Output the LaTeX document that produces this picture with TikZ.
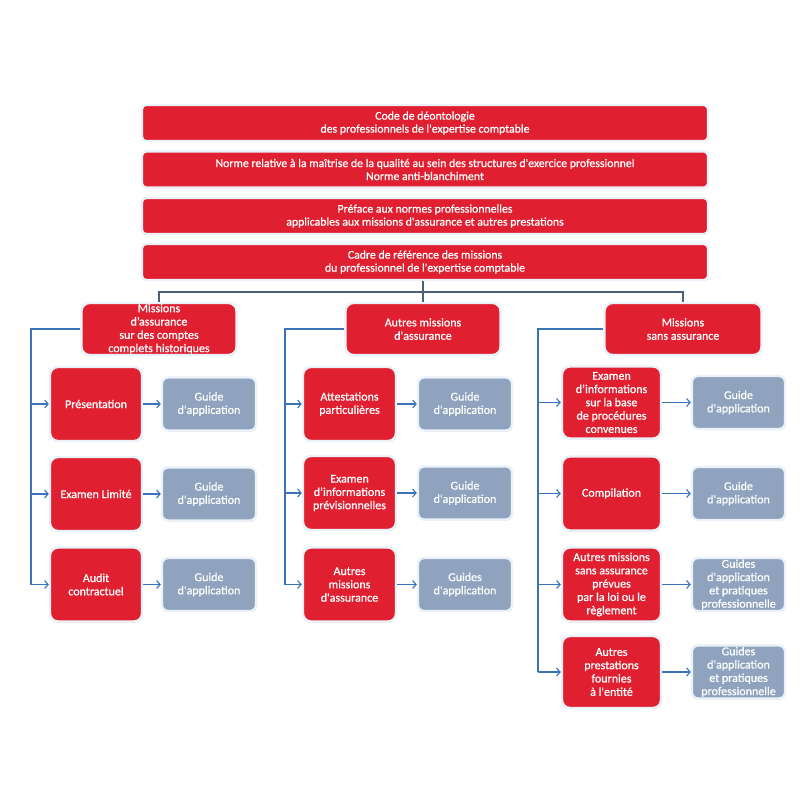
\documentclass[tikz,border=0pt]{standalone}
\usepackage{fontspec}
\setmainfont{Carlito}[Ligatures=TeXOff]
\newfontfamily\medfont{Carlito}[Ligatures=TeXOff, FakeBold=0.8]
\usetikzlibrary{arrows.meta,shadows}
\definecolor{boxred}{RGB}{224,32,48}
\definecolor{guidegray}{RGB}{143,163,190}
\definecolor{glow}{RGB}{234,241,248}
\definecolor{topline}{RGB}{75,94,122}
\definecolor{busblue}{RGB}{60,114,184}
\begin{document}
\begin{tikzpicture}[x=1pt,y=-1pt,
 base/.style={draw=glow, line width=2.4pt, text=white, align=center, inner sep=0pt,
   font=\medfont\fontsize{12}{13.3}\selectfont,
   drop shadow={shadow xshift=0.7pt, shadow yshift=-0.9pt, opacity=0.3, fill=black!60}},
 banner/.style={base, fill=boxred, rounded corners=4pt, minimum width=566pt, minimum height=36pt, font=\medfont\fontsize{11.8}{13}\selectfont},
 lvl/.style={base, fill=boxred, rounded corners=8pt, minimum width=155pt, minimum height=52pt},
 item/.style={base, fill=boxred, rounded corners=8pt, minimum height=74pt},
 guide/.style={base, fill=guidegray, rounded corners=6pt, minimum width=94pt, minimum height=53pt},
 bus/.style={busblue, line width=1.1pt},
 arr/.style={bus, -{Straight Barb[length=3.5pt,width=8pt]}},
 topl/.style={topline, line width=1.4pt}]
\useasboundingbox (0,0) rectangle (810,798);
\fill[white] (0,0) rectangle (810,798);

% banners
\node[banner] (b1) at (425,123) {Code de déontologie\\des professionnels de l'expertise comptable};
\node[banner] (b2) at (425,169.5) {Norme relative à la maîtrise de la qualité au sein des structures d'exercice professionnel\\Norme anti-blanchiment};
\node[banner] (b3) at (425,216) {Préface aux normes professionnelles\\applicables aux missions d'assurance et autres prestations};
\node[banner] (b4) at (425,262) {Cadre de référence des missions\\du professionnel de l'expertise comptable};

% level 2
\node[lvl] (A) at (159,329) {Missions\\d’assurance\\sur des comptes\\complets historiques};
\node[lvl] (B) at (423,329) {Autres missions\\d'assurance};
\node[lvl, minimum width=157pt] (C) at (683,329) {Missions\\sans assurance};

\coordinate (hub) at (423,292);
\draw[topl] (b4.south -| hub) -- (hub);
\draw[topl] (A.north) |- (hub) -| (C.north);
\draw[topl] (hub) -- (B.north);

% column A
\node[item, minimum width=92pt] (a1) at (96,404) {Présentation};
\node[item, minimum width=92pt] (a2) at (96,494) {Examen Limité};
\node[item, minimum width=92pt] (a3) at (96,584.5) {Audit\\contractuel};
\node[guide] (ga1) at (209,404) {Guide\\d'application};
\node[guide] (ga2) at (209,494) {Guide\\d'application};
\node[guide] (ga3) at (209,584.5) {Guide\\d'application};

% column B
\node[item, minimum width=93pt] (m1) at (349.5,404) {Attestations\\particulières};
\node[item, minimum width=93pt] (m2) at (349.5,493) {Examen\\d’informations\\prévisionnelles};
\node[item, minimum width=93pt] (m3) at (349.5,584.5) {Autres\\missions\\d'assurance};
\node[guide] (gb1) at (465,404) {Guide\\d'application};
\node[guide] (gb2) at (465,493) {Guide\\d'application};
\node[guide] (gb3) at (465,584.5) {Guides\\d'application};

% column C
\node[item, minimum width=99pt, minimum height=72pt] (c1) at (611.5,402.5) {Examen\\d’informations\\sur la base\\de procédures\\convenues};
\node[item, minimum width=99pt] (c2) at (611.5,493.5) {Compilation};
\node[item, minimum width=99pt] (c3) at (611.5,584.5) {Autres missions\\sans assurance\\prévues\\par la loi ou le\\règlement};
\node[item, minimum width=99pt, minimum height=72pt] (c4) at (611.5,672) {Autres\\prestations\\fournies\\à l'entité};
\node[guide, minimum width=93pt] (gc1) at (738.5,402.5) {Guide\\d'application};
\node[guide, minimum width=93pt] (gc2) at (738.5,493.5) {Guide\\d'application};
\node[guide, minimum width=93pt] (gc3) at (738.5,584.5) {Guides\\d'application\\et pratiques\\professionnelle};
\node[guide, minimum width=93pt] (gc4) at (738.5,672) {Guides\\d'application\\et pratiques\\professionnelle};

% buses
\coordinate (ba) at (31,584.5);
\coordinate (bb) at (285,584.5);
\coordinate (bc) at (538,672);
\draw[bus] (A.west) -| (ba);
\draw[bus] (B.west) -| (bb);
\draw[bus] (C.west) -| (bc);
\foreach \n in {a1,a2,a3} \draw[arr] (ba |- \n.west) -- (\n.west);
\foreach \n in {m1,m2,m3} \draw[arr] (bb |- \n.west) -- (\n.west);
\foreach \n in {c1,c2,c3,c4} \draw[arr] (bc |- \n.west) -- (\n.west);

% item to guide
\draw[arr] (a1.east) -- (ga1.west);
\draw[arr] (a2.east) -- (ga2.west);
\draw[arr] (a3.east) -- (ga3.west);
\draw[arr] (m1.east) -- (gb1.west);
\draw[arr] (m2.east) -- (gb2.west);
\draw[arr] (m3.east) -- (gb3.west);
\draw[arr] (c1.east) -- (gc1.west);
\draw[arr] (c2.east) -- (gc2.west);
\draw[arr] (c3.east) -- (gc3.west);
\draw[arr] (c4.east) -- (gc4.west);
\end{tikzpicture}
\end{document}
